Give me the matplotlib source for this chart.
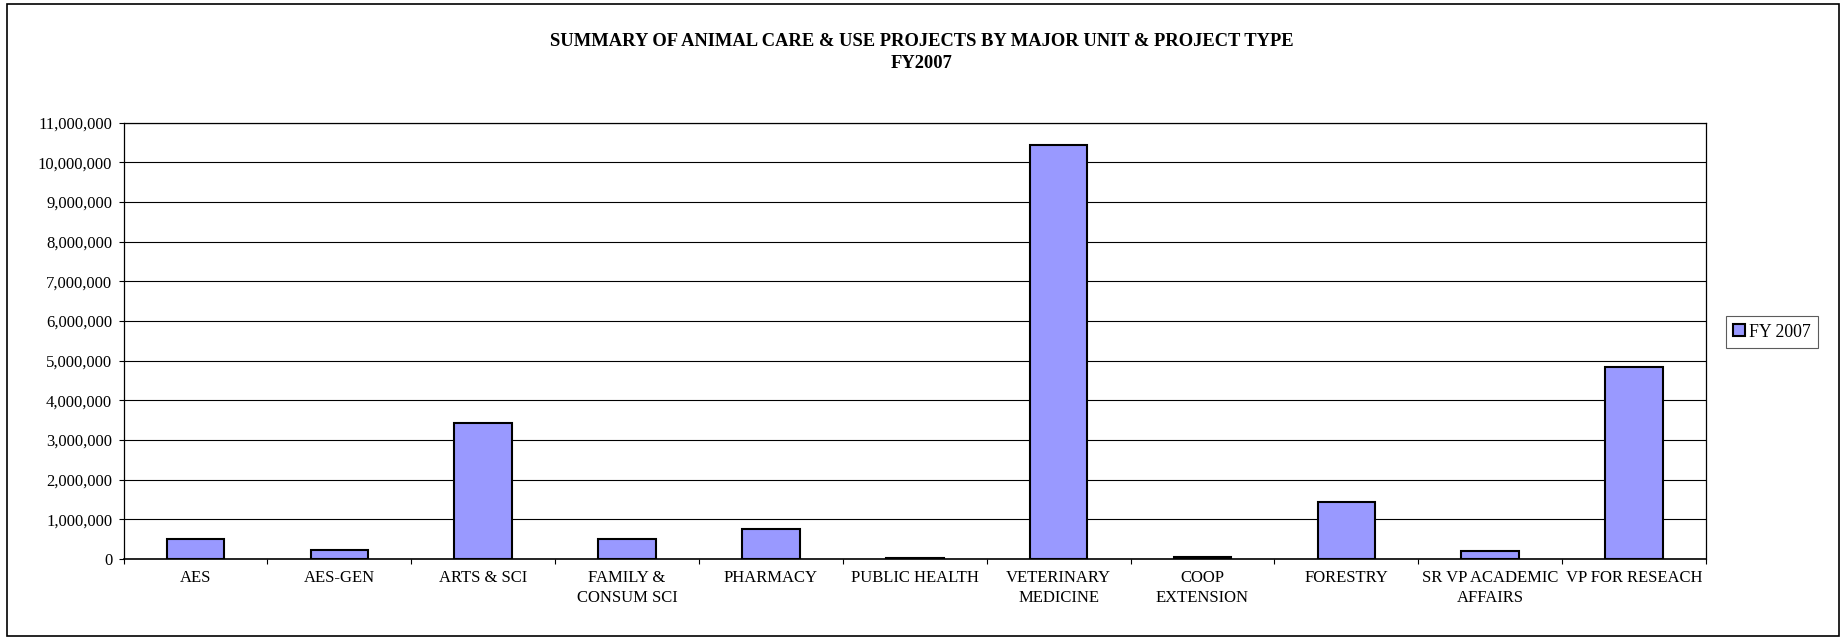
import matplotlib
matplotlib.use("Agg")
import matplotlib.pyplot as plt
from matplotlib.patches import Rectangle
from matplotlib.ticker import FuncFormatter, FixedLocator

units = ["AES", "AES-GEN", "ARTS & SCI", "FAMILY &\nCONSUM SCI", "PHARMACY",
         "PUBLIC HEALTH", "VETERINARY\nMEDICINE", "COOP\nEXTENSION", "FORESTRY",
         "SR VP ACADEMIC\nAFFAIRS", "VP FOR RESEACH"]
fy2007 = [500000, 230000, 3420000, 500000, 760000, 30000,
          10450000, 40000, 1440000, 190000, 4830000]
yticks = list(range(0, 11000001, 1000000))

plt.rcParams['font.family'] = ['Liberation Serif', 'DejaVu Serif']

W, H = 1843, 638
fig = plt.figure(figsize=(W / 100, H / 100), dpi=100)
ax = fig.add_axes([123.5 / W, 1 - 559 / H, (1706 - 123.5) / W, (559 - 122.7) / H])

x = list(range(len(units)))
ax.bar(x, fy2007, width=0.4, color="#9999ff", edgecolor="black",
       linewidth=1.5, label="FY 2007", zorder=3)

ax.set_xlim(-0.5, len(units) - 0.5)
ax.set_ylim(0, 11000000)
ax.set_yticks(yticks)
ax.yaxis.set_major_formatter(FuncFormatter(lambda v, p: f"{int(v):,}"))
ax.grid(axis="y", color="black", linewidth=0.8, zorder=0)

ax.set_xticks(x)
ax.set_xticklabels(units, fontsize=12, linespacing=1.3)
ax.xaxis.set_minor_locator(FixedLocator([i - 0.5 for i in range(len(units) + 1)]))
ax.tick_params(axis="x", which="major", length=0, pad=8)
ax.tick_params(axis="x", which="minor", length=3.6, width=0.8, direction="out")
ax.tick_params(axis="y", length=3.6, width=0.8, direction="out", pad=4.5, labelsize=12)

for s in ax.spines.values():
    s.set_color("black")
    s.set_linewidth(0.9)
ax.spines["bottom"].set_linewidth(1.2)

fig.text(0.5, 1 - 42 / H, "SUMMARY OF ANIMAL CARE & USE PROJECTS BY MAJOR UNIT & PROJECT TYPE",
         ha="center", va="center", fontsize=13.3, fontweight="bold")
fig.text(0.5, 1 - 63.5 / H, "FY2007", ha="center", va="center", fontsize=13.3, fontweight="bold")

leg = ax.legend(loc="center left", bbox_to_anchor=(1726 / W, 1 - 332 / H),
                bbox_transform=fig.transFigure, fontsize=12.8, fancybox=False,
                frameon=True, handlelength=0.65, handleheight=0.65, handletextpad=0.25,
                borderpad=0.4, borderaxespad=0)
leg.get_frame().set_edgecolor("#333333")
leg.get_frame().set_linewidth(0.8)

fig.patches.append(Rectangle((7.3 / W, 1 - 636 / H), (1839 - 7.3) / W, (636 - 4.3) / H,
                             transform=fig.transFigure, fill=False,
                             edgecolor="black", linewidth=1.2))

fig.savefig("out.png", dpi=100)
